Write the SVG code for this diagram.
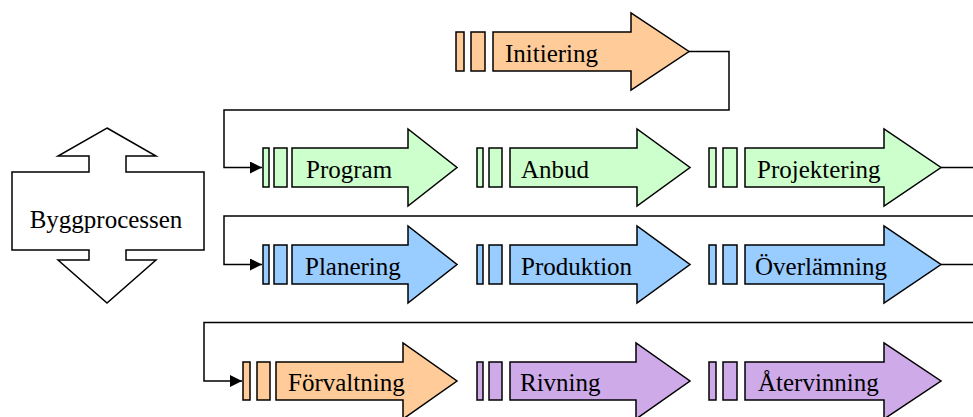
<svg xmlns="http://www.w3.org/2000/svg" width="973" height="417" viewBox="0 0 973 417">
  <style>
    .shape { stroke: #000; stroke-width: 1.5; stroke-linejoin: miter; }
    .orange { fill: #FFCC99; }
    .green { fill: #CCFFCC; }
    .blue { fill: #99CCFF; }
    .purple { fill: #CEAAE8; }
    .plain { fill: #FFFFFF; }
    .label { font-family: "Liberation Serif", "Times New Roman", serif; font-size: 25px; fill: #000; }
    .link { fill: none; stroke: #000; stroke-width: 1.5; }
  </style>
  <defs>
    <marker id="head" viewBox="0 0 12 12" refX="12" refY="6" markerWidth="12" markerHeight="12" markerUnits="userSpaceOnUse" orient="auto">
      <path d="M0,0 L12,6 L0,12 Z" fill="#000"/>
    </marker>
  </defs>

  <rect width="973" height="417" fill="#FFFFFF"/>

  <!-- Connectors between the rows of phases -->
  <g id="connectors">
    <path class="link" d="M689,51.5 H729 V110 H224 V167.5 H262" marker-end="url(#head)"/>
    <path class="link" d="M941,167.5 H990 V216 H224 V264.5 H262" marker-end="url(#head)"/>
    <path class="link" d="M941,264.5 H990 V322.5 H204 V381 H242" marker-end="url(#head)"/>
  </g>

  <!-- Double arrow: the building process -->
  <g id="byggprocessen">
    <polygon class="shape plain" points="107,128 156,156 126,156 126,172 204,172 204,250 126,250 126,260 156,260 107,303 58,260 89,260 89,250 12,250 12,172 89,172 89,156 58,156"/>
    <text class="label" x="106" y="228" text-anchor="middle">Byggprocessen</text>
  </g>

  <!-- Phase arrows -->
  <g id="initiering">
    <rect class="shape orange" x="456" y="32" width="8" height="39"/>
    <rect class="shape orange" x="471" y="32" width="14" height="39"/>
    <polygon class="shape orange" points="493,32 631,32 631,13 689,51.5 631,90 631,71 493,71"/>
    <text class="label" x="505" y="61.5">Initiering</text>
  </g>

  <g id="program">
    <rect class="shape green" x="263" y="148" width="6" height="39"/>
    <rect class="shape green" x="274" y="148" width="13" height="39"/>
    <polygon class="shape green" points="292,148 408,148 408,129 457,167.5 408,206 408,187 292,187"/>
    <text class="label" x="306" y="177.5">Program</text>
  </g>

  <g id="anbud">
    <rect class="shape green" x="477" y="148" width="6" height="39"/>
    <rect class="shape green" x="489" y="148" width="13" height="39"/>
    <polygon class="shape green" points="510,148 637,148 637,129 690,167.5 637,206 637,187 510,187"/>
    <text class="label" x="521" y="177.5">Anbud</text>
  </g>

  <g id="projektering">
    <rect class="shape green" x="709" y="148" width="7" height="39"/>
    <rect class="shape green" x="723" y="148" width="14" height="39"/>
    <polygon class="shape green" points="745,148 884,148 884,129 941,167.5 884,206 884,187 745,187"/>
    <text class="label" x="757" y="177.5">Projektering</text>
  </g>

  <g id="planering">
    <rect class="shape blue" x="263" y="245" width="6" height="39"/>
    <rect class="shape blue" x="274" y="245" width="13" height="39"/>
    <polygon class="shape blue" points="292,245 408,245 408,226 457,264.5 408,303 408,284 292,284"/>
    <text class="label" x="305" y="274.5">Planering</text>
  </g>

  <g id="produktion">
    <rect class="shape blue" x="477" y="245" width="6" height="39"/>
    <rect class="shape blue" x="489" y="245" width="13" height="39"/>
    <polygon class="shape blue" points="510,245 637,245 637,226 690,264.5 637,303 637,284 510,284"/>
    <text class="label" x="521" y="274.5">Produktion</text>
  </g>

  <g id="overlamning">
    <rect class="shape blue" x="709" y="245" width="7" height="39"/>
    <rect class="shape blue" x="723" y="245" width="14" height="39"/>
    <polygon class="shape blue" points="745,245 884,245 884,226 941,264.5 884,303 884,284 745,284"/>
    <text class="label" x="755" y="274.5">Överlämning</text>
  </g>

  <g id="forvaltning">
    <rect class="shape orange" x="243" y="362" width="7" height="38"/>
    <rect class="shape orange" x="257" y="362" width="13" height="38"/>
    <polygon class="shape orange" points="276,362 403,362 403,343 457,381 403,419 403,400 276,400"/>
    <text class="label" x="288" y="391">Förvaltning</text>
  </g>

  <g id="rivning">
    <rect class="shape purple" x="477" y="362" width="6" height="38"/>
    <rect class="shape purple" x="489" y="362" width="13" height="38"/>
    <polygon class="shape purple" points="510,362 636,362 636,343 690,381 636,419 636,400 510,400"/>
    <text class="label" x="520" y="391">Rivning</text>
  </g>

  <g id="atervinning">
    <rect class="shape purple" x="709" y="362" width="7" height="38"/>
    <rect class="shape purple" x="723" y="362" width="14" height="38"/>
    <polygon class="shape purple" points="745,362 884,362 884,343 941,381 884,419 884,400 745,400"/>
    <text class="label" x="758" y="391">Återvinning</text>
  </g>
</svg>
